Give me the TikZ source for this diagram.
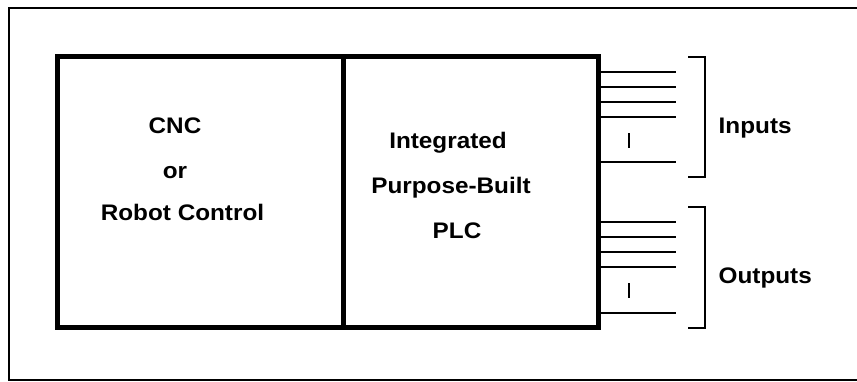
\documentclass[tikz,border=0pt]{standalone}
\usepackage{fontspec}
\setmainfont[FakeStretch=1.08]{Liberation Sans}
\begin{document}
\begin{tikzpicture}[x=1pt,y=-1pt,
  unitbox/.style={draw,line width=5pt,rectangle,inner sep=0pt,minimum height=271pt},
  label/.style={font=\bfseries\fontsize{22.5}{27}\selectfont,inner sep=0pt,anchor=base},
  side/.style={label,anchor=base west},
  wire/.style={line width=2pt},
  brack/.style={line width=2pt},
  gap/.style={line width=2.3pt}]
\useasboundingbox (0,0) rectangle (857,381);
% outer frame, open on the right
\draw[line width=2pt] (860,7.5) -- (9,7.5) -- (9,380) -- (860,380);

% the two halves of the controller
\node[unitbox,minimum width=285.5pt] (ctrl) at (200.25,192) {};
\node[unitbox,minimum width=255.5pt] (plc) at (470.75,192) {};

\node[label] (cnc) at (175,133) {CNC};
\node[label] (or) at (175,178) {or};
\node[label] (robot) at (182.5,220) {Robot Control};

\node[label] (integ) at (448,148) {Integrated};
\node[label] (purp) at (451,193) {Purpose-Built};
\node[label] (plctxt) at (457,238) {PLC};

% input lines
\foreach \y in {72,87,102,117,162}
  \draw[wire] (plc.east |- 0,\y) -- (676,\y);
\coordinate (igapA) at (629,133);
\coordinate (igapB) at (629,148);
\draw[gap] (igapA) -- (igapB);

% output lines
\foreach \y in {222,237,252,267,313}
  \draw[wire] (plc.east |- 0,\y) -- (676,\y);
\coordinate (ogapA) at (629,283);
\coordinate (ogapB) at (629,298);
\draw[gap] (ogapA) -- (ogapB);

% brackets
\coordinate (ib1) at (688,56.7);
\coordinate (ib2) at (688,176.7);
\draw[brack] (ib1) -- (705,56.7) -- (705,176.7) -- (ib2);
\coordinate (ob1) at (688,206.7);
\coordinate (ob2) at (688,328);
\draw[brack] (ob1) -- (705,206.7) -- (705,328) -- (ob2);

\node[side] (inputs) at (718.5,133) {Inputs};
\node[side] (outputs) at (718.5,283) {Outputs};
\end{tikzpicture}
\end{document}
